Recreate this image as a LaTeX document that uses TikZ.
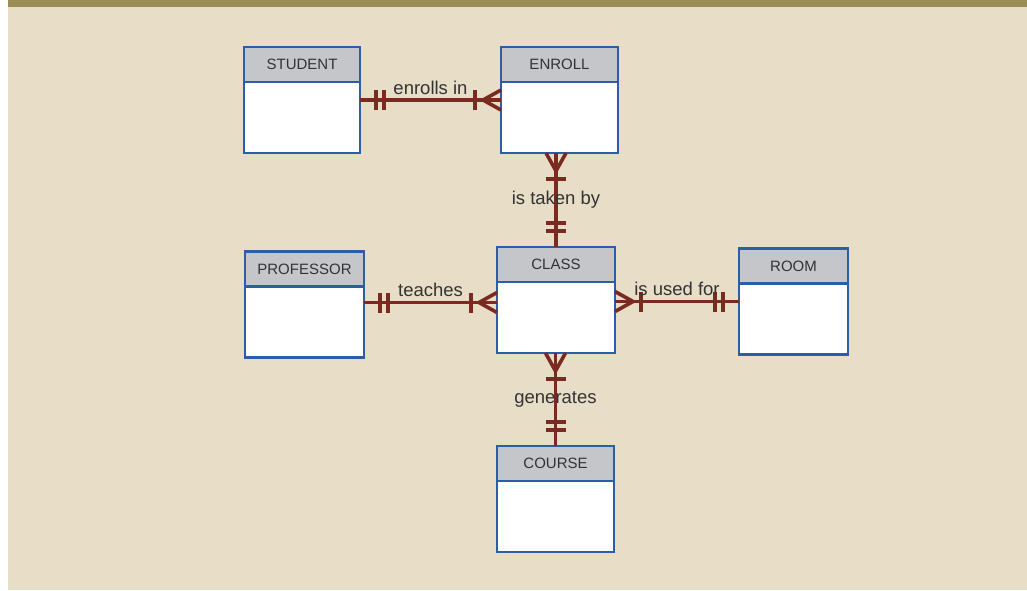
\documentclass[tikz,border=0pt]{standalone}
\usepackage{fontspec}
\setmainfont{Liberation Sans}
\usepackage{tikz}
\usetikzlibrary{positioning,calc,decorations.markings}
\definecolor{bgbeige}{HTML}{E8DDC6}
\definecolor{bgolive}{HTML}{9A8D55}
\definecolor{entblue}{HTML}{2B5DA8}
\definecolor{headgray}{HTML}{C4C6CA}
\definecolor{relred}{HTML}{7A2A20}
\definecolor{txtgray}{HTML}{333333}

\begin{document}
\begin{tikzpicture}[
		x=1pt, y=-1pt,
		head/.style={draw=entblue, line width=2.4pt, outer sep=0pt, inner sep=0pt,
			fill=headgray, minimum width=#1, minimum height=35pt,
			text=txtgray, font=\fontsize{15}{17}\selectfont},
		body/.style={draw=entblue, line width=2.4pt, outer sep=0pt,
			fill=white, minimum width=#1, minimum height=71pt},
		rel/.style={draw=relred, line width=3.6pt},
		lbl/.style={text=txtgray, inner sep=0pt, font=\fontsize{18.5}{22}\selectfont},
		onemany/.style={rel, postaction={decorate, decoration={markings,
			mark=at position 16pt with {\draw[rel] (0,-10pt) -- (0,10pt);},
			mark=at position 24pt with {\draw[rel] (0,-10pt) -- (0,10pt);},
			mark=at position -26pt with {\draw[rel] (0,-10pt) -- (0,10pt);},
			mark=at position -18pt with {\draw[rel] (18pt,-10pt) -- (0,0) -- (18pt,10pt);}}}},
		]
		
		\useasboundingbox (0,0) rectangle (1027,590);
		\fill[white] (0,0) rectangle (1027,590);
		\fill[bgbeige] (8,7) rectangle (1027,590);
		\fill[bgolive] (8,0) rectangle (1027,7);
		
		\node[head=116] (studenth) at (302,64.5) {STUDENT};
		\node[body=116, below=0pt of studenth] (student) {};
		\node[head=117] (enrollh) at (559.5,64.5) {ENROLL};
		\node[body=117, below=0pt of enrollh] (enroll) {};
		\node[head=119] (professorh) at (304.5,269) {PROFESSOR};
		\node[body=119, below=0pt of professorh] (professor) {};
		\node[head=118] (classh) at (556,264.5) {CLASS};
		\node[body=118, below=0pt of classh] (class) {};
		\node[head=109] (roomh) at (793.5,266) {ROOM};
		\node[body=109, below=0pt of roomh] (room) {};
		\node[head=117] (courseh) at (555.5,463.5) {COURSE};
		\node[body=117, below=0pt of courseh] (course) {};
		
		\draw[onemany] ($(student.north east)+(0,18)$) coordinate (s1) -- (s1 -| enroll.west)
			node[lbl, midway, anchor=base, yshift=6pt] {enrolls in};
		\draw[onemany] (classh.north) -- (classh.north |- enroll.south)
			node[lbl, midway] {is taken by};
		\draw[onemany] ($(professor.north east)+(0,16)$) coordinate (p1) -- (p1 -| class.west)
			node[lbl, midway, anchor=base, yshift=6pt] {teaches};
		\draw[onemany] ($(room.north west)+(0,18)$) coordinate (r1) -- (r1 -| class.east)
			node[lbl, midway, anchor=base, yshift=6pt] {is used for};
		\draw[onemany] (courseh.north) -- (courseh.north |- class.south)
			node[lbl, midway] {generates};
		
	\end{tikzpicture}
\end{document}
